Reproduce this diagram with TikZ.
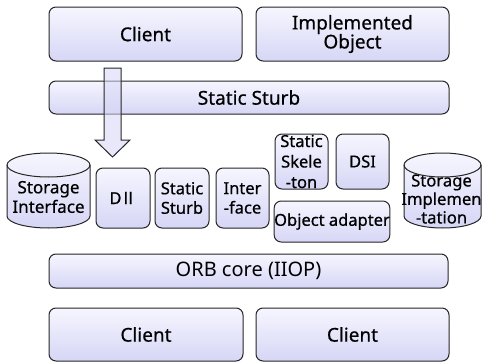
\documentclass[tikz,border=0pt]{standalone}
\usepackage{fontspec}
\setmainfont{Noto Sans}[FakeBold=0.6]
\newfontfamily\lightfont{Noto Sans}
\newfontfamily\krfont{Noto Sans CJK KR}[FakeBold=0.6]
\definecolor{boxtop}{RGB}{246,246,255}
\definecolor{boxbot}{RGB}{214,214,246}
\tikzset{
  box/.style={draw=black!85,line width=1pt,rounded corners=7pt,
    top color=boxtop,bottom color=boxbot,align=center,inner sep=0pt},
  bigtxt/.style={font=\fontsize{19}{22}\selectfont},
  smalltxt/.style={font=\fontsize{16.5}{19.5}\selectfont,align=center},
  blockarrow/.style={draw=black!85,line width=1pt,fill=boxbot,fill opacity=.55}
}
\begin{document}
\begin{tikzpicture}[x=1pt,y=-1pt]
  \useasboundingbox (0,0) rectangle (483,362);

  % top row
  \node[box,bigtxt,minimum width=193,minimum height=54] (client) at (145.5,34) {Client};
  \node[box,bigtxt,minimum width=193,minimum height=54] (impl) at (352.5,34) {Implemented\\[-3pt]Object};
  \node[box,bigtxt,minimum width=400,minimum height=33] (stub) at (249,97.5) {Static Sturb};

  % storages
  \foreach \l/\r in {7/90,404/481}{
    \pgfmathsetmacro\rx{(\r-\l)/2}
    \draw[box,sharp corners] (\l,165) -- (\l,216)
      arc[start angle=180,end angle=0,x radius=\rx,y radius=12] -- (\r,165)
      arc[start angle=0,end angle=-180,x radius=\rx,y radius=12] -- cycle;
  }
  \node[smalltxt,font=\fontsize{17}{19.5}\selectfont] (si) at (48.5,197) {Storage\\Interface};
  \node[smalltxt,font=\fontsize{16.6}{18.5}\selectfont] (simp) at (441.5,199) {Storage\\Implemen\\-tation};
  \foreach \l/\r in {7/90,404/481}{
    \pgfmathsetmacro\rx{(\r-\l)/2}
    \draw[draw=black!85,line width=1pt] (\l,165)
      arc[start angle=180,end angle=0,x radius=\rx,y radius=12];
  }

  % middle row
  \node[box,smalltxt,minimum width=54,minimum height=60] (dii) at (123,198) {D\kern-1.5pt{\krfont Ⅱ}};
  \node[box,smalltxt,minimum width=54,minimum height=60] (sstub) at (182,198) {Static\\Sturb};
  \node[box,smalltxt,minimum width=53,minimum height=60] (iface) at (242.5,198) {Inter\\-face};
  \node[box,smalltxt,minimum width=53,minimum height=55,font=\fontsize{16.5}{20.5}\selectfont] (skel) at (301.5,161.5) {Static\\Skele\\-ton};
  \node[box,smalltxt,minimum width=53,minimum height=55] (dsi) at (362.5,161.5) {DSI};
  \node[box,smalltxt,minimum width=114,minimum height=41] (oa) at (332,221.5) {Object adapter};

  % bottom
  \node[box,minimum width=399,minimum height=34,font=\lightfont\fontsize{20}{22}\selectfont] (orb) at (248.5,271) {ORB core (IIOP)};
  \node[box,bigtxt,minimum width=194,minimum height=53] (clienta) at (146,334.5) {Client};
  \node[box,bigtxt,minimum width=193,minimum height=53] (clientb) at (352.5,334.5) {Client};

  % call arrow
  \coordinate (atop) at (112.5,68);
  \coordinate (atip) at (112.5,157);
  \draw[blockarrow] ([xshift=-8.5pt]atop) -- ++(17,0) -- ++(0,72) -- ++(9,0)
    -- (atip) -- ++(-17.5,-17) -- ++(9,0) -- cycle;
\end{tikzpicture}
\end{document}
